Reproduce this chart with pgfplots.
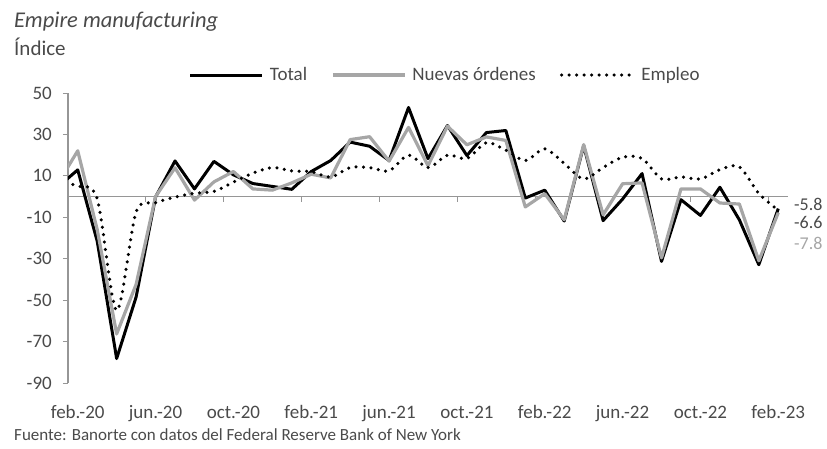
\documentclass[border=0pt]{standalone}
\usepackage{pgfplots}
\pgfplotsset{compat=1.18}
\usepackage{pgfplotstable}
\usepackage{fontspec}
\setmainfont{Carlito}
\definecolor{txt}{HTML}{4A4A4A}
\definecolor{axgray}{HTML}{969696}
\definecolor{ordgray}{HTML}{A6A6A6}

\pgfplotstableread{
i total orders emp
-1 4.8 6.6 7.5
0 12.9 22.1 5.0
1 -21.5 -15.9 -1.0
2 -78.2 -66.3 -55.0
3 -48.5 -42.4 -7.5
4 -0.2 0.0 -3.0
5 17.2 13.9 -0.3
6 3.7 -1.7 1.6
7 17.0 7.1 2.5
8 10.5 12.1 7.0
9 6.3 3.7 11.3
10 4.9 3.1 14.0
11 3.5 6.6 12.4
12 12.1 10.8 12.0
13 17.4 9.0 9.5
14 26.3 27.5 14.0
15 24.3 28.9 14.0
16 17.4 17.1 12.4
17 43.0 33.4 20.0
18 18.3 14.9 14.0
19 34.3 34.0 20.0
20 19.8 25.0 18.4
21 30.9 28.8 26.0
22 31.9 27.1 22.4
23 -0.7 -5.0 17.4
24 3.1 1.4 23.0
25 -11.8 -11.2 16.0
26 24.6 25.1 8.5
27 -11.6 -8.8 14.0
28 -1.2 6.2 19.0
29 11.1 6.6 18.4
30 -31.3 -29.6 8.5
31 -1.5 3.7 9.5
32 -9.1 3.7 8.5
33 4.5 -3.1 13.0
34 -11.2 -3.6 14.4
35 -32.9 -31.0 1.5
36 -5.8 -7.8 -6.6
}\datatable

\begin{document}
\begin{tikzpicture}
\useasboundingbox (-68pt,-65pt) rectangle (759pt,383pt);
% zero line with downward ticks: an axis whose bottom edge is y=0
\begin{axis}[
  at={(0pt,186.43pt)}, anchor=south west, scale only axis,
  width=720pt, height=103.57pt,
  xmin=-0.5, xmax=36.5, ymin=0, ymax=50,
  axis x line*=bottom, axis y line=none,
  xtick={3.5,7.5,...,35.5}, xticklabels={}, ytick=\empty,
  tick align=outside, major tick length=5pt,
  x axis line style={-, draw=axgray, line width=1.3pt},
  xtick style={draw=axgray, line width=1pt},
]
\addplot[draw=none] coordinates {(0,10)};
\end{axis}
\begin{axis}[
  at={(0,0)}, anchor=south west, scale only axis,
  width=720pt, height=290pt,
  xmin=-0.5, xmax=36.5, ymin=-90, ymax=50,
  axis y line*=left, axis x line*=bottom,
  x axis line style={draw=none},
  y axis line style={-, draw=axgray, line width=1.3pt},
  ytick={-90,-70,...,50},
  xtick={0,4,...,36},
  xticklabels={feb.-20, jun.-20, oct.-20, feb.-21, jun.-21, oct.-21, feb.-22, jun.-22, oct.-22, feb.-23},
  x tick style={draw=none},
  y tick style={draw=axgray, line width=1pt},
  tick align=outside, major tick length=5pt,
  /pgf/number format/assume math mode=true,
  tick label style={font=\fontsize{19}{19}\selectfont, text=txt},
  xticklabel style={anchor=base, yshift=-30pt},
  yticklabel style={anchor=east, inner sep=0pt, xshift=-11pt},
  legend columns=3,
  legend style={draw=none, fill=none, at={(0.524,1.062)}, anchor=center,
    font=\fontsize{19}{19}\selectfont, text=txt,
    /tikz/every odd column/.append style={column sep=4pt},
    /tikz/every even column/.append style={column sep=22pt},
    inner sep=0pt},
  legend image code/.code={\draw[#1] (0pt,0pt) -- (72pt,0pt);},
]
\addplot[black, line width=3pt, line join=round] table[x=i, y=total] {\datatable};
\addlegendentry{Total}
\addplot[ordgray, line width=3.2pt, line join=round] table[x=i, y=orders] {\datatable};
\addlegendentry{Nuevas órdenes}
\addplot[black, line width=3.5pt, line cap=round, dash pattern=on 0pt off 7.5pt, smooth, tension=0.5] table[x=i, y=emp] {\datatable};
\addlegendentry{Empleo}
\coordinate (l1) at (axis cs:36.5,-3.9);
\coordinate (l2) at (axis cs:36.5,-12.6);
\coordinate (l3) at (axis cs:36.5,-22.7);
\end{axis}
\node[anchor=west, inner sep=0pt, xshift=6pt, text=txt, font=\fontsize{18}{18}\selectfont] at (l1) {-5.8};
\node[anchor=west, inner sep=0pt, xshift=6pt, text=txt, font=\fontsize{18}{18}\selectfont] at (l2) {-6.6};
\node[anchor=west, inner sep=0pt, xshift=6pt, text=ordgray, font=\fontsize{18}{18}\selectfont] at (l3) {-7.8};
\node[anchor=west, inner sep=0pt, text=txt, font=\fontsize{22.5}{22.5}\selectfont\itshape] at (-54pt,361pt) {Empire manufacturing};
\node[anchor=west, inner sep=0pt, text=txt, font=\fontsize{21}{21}\selectfont] at (-54pt,336pt) {Índice};
\node[anchor=west, inner sep=0pt, text=txt, font=\fontsize{17}{17}\selectfont] at (-54pt,-52pt) {Fuente: Banorte con datos del Federal Reserve Bank of New York};
\end{tikzpicture}
\end{document}
